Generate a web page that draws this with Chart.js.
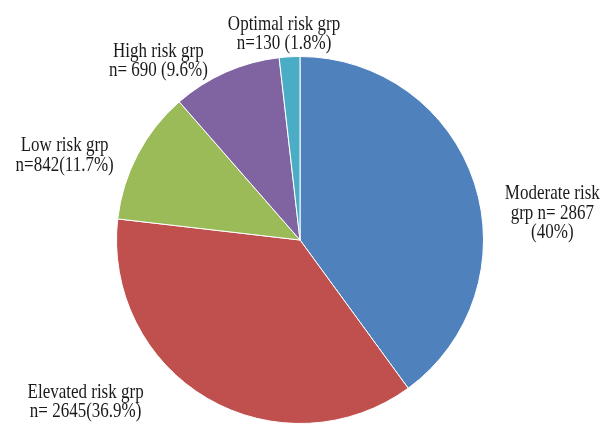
<!DOCTYPE html>
<html>
<head>
<meta charset="utf-8">
<script src="https://cdn.jsdelivr.net/npm/chart.js@4/dist/chart.umd.min.js"></script>
<style>
  html, body { margin: 0; padding: 0; background: #ffffff; }
  #wrap { width: 603px; height: 425px; position: relative; }
</style>
</head>
<body>
<div id="wrap"><canvas id="c" width="603" height="425"></canvas></div>
<script>
// ---- data ----
const categories = ["Moderate risk grp", "Elevated risk grp", "Low risk grp", "High risk grp", "Optimal risk grp"];
const counts = [2867, 2645, 842, 690, 130];
const sliceColors = ["#4F81BD", "#C0504D", "#9BBB59", "#8064A2", "#4BACC6"];
const labelLines = [
  ["Moderate risk", "grp n= 2867", "(40%)"],
  ["Elevated risk grp", "n= 2645(36.9%)"],
  ["Low risk grp", "n=842(11.7%)"],
  ["High risk grp", "n= 690 (9.6%)"],
  ["Optimal risk grp", "n=130 (1.8%)"]
];
// label anchor offsets from pie centre, in pixels at radius 184 (centre x, first baseline y)
const labelOffsets = [
  [253, -41],
  [-215, 158],
  [-236, -89],
  [-142, -184],
  [-16, -211]
];

const labelPlugin = {
  id: 'sliceLabels',
  afterDraw(chart) {
    const meta = chart.getDatasetMeta(0);
    const ctx = chart.ctx;
    ctx.save();
    ctx.fillStyle = '#1a1a1a';
    ctx.font = '17px "Liberation Serif", "Times New Roman", serif';
    ctx.textAlign = 'center';
    ctx.textBaseline = 'alphabetic';
    meta.data.forEach((arc, i) => {
      const p = arc.getProps(['x', 'y', 'outerRadius'], true);
      const k = p.outerRadius / 184;
      const cx = p.x + labelOffsets[i][0] * k;
      let y = p.y + labelOffsets[i][1] * k;
      labelLines[i].forEach(line => {
        ctx.save();
        ctx.translate(cx, y);
        ctx.scale(1, 1.18);
        ctx.fillText(line, 0, 0);
        ctx.restore();
        y += 19.5;
      });
    });
    ctx.restore();
  }
};

new Chart(document.getElementById('c'), {
  type: 'pie',
  data: {
    labels: categories,
    datasets: [{
      data: counts,
      backgroundColor: sliceColors,
      borderColor: '#ffffff',
      borderWidth: 1
    }]
  },
  options: {
    responsive: false,
    animation: false,
    layout: { padding: { top: 56, bottom: 1, left: 0, right: 3 } },
    plugins: {
      legend: { display: false },
      tooltip: { enabled: false }
    }
  },
  plugins: [labelPlugin]
});
</script>
</body>
</html>
